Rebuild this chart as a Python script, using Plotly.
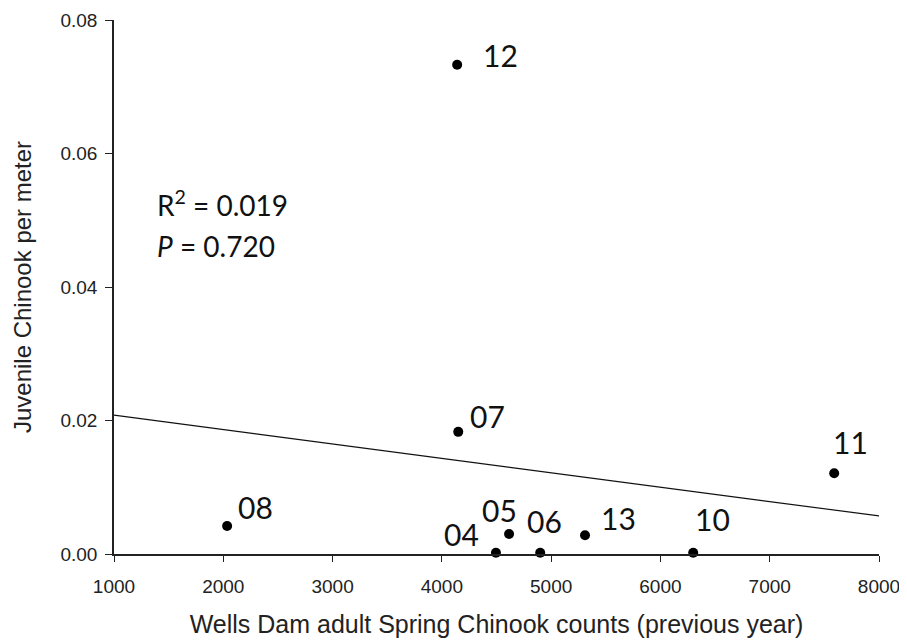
import plotly.graph_objects as go

# Data
years = ["04", "05", "06", "07", "08", "10", "11", "12", "13"]
adult_counts = [4495, 4615, 4900, 4150, 2035, 6300, 7590, 4140, 5310]
juvenile_per_m = [0.0002, 0.0030, 0.0002, 0.0183, 0.0042, 0.0002, 0.0121, 0.0733, 0.0028]

trend_x = [1000, 8000]
trend_y = [0.0208, 0.0057]

x_ticks = [1000, 2000, 3000, 4000, 5000, 6000, 7000, 8000]
y_ticks = [0.00, 0.02, 0.04, 0.06, 0.08]

stats_r2 = "0.019"
stats_p = "0.720"

# Label pixel offsets (style): (dx right, dy up)
label_offsets = {
    "04": (-34, 19), "05": (-10, 24), "06": (4, 32), "07": (29, 16),
    "08": (28, 19), "10": (19, 34), "11": (16, 31), "12": (43, 10), "13": (33, 17),
}

fig = go.Figure()
fig.add_trace(go.Scatter(x=trend_x, y=trend_y, mode="lines",
                         line=dict(color="#111111", width=1.2), showlegend=False,
                         hoverinfo="skip"))
fig.add_trace(go.Scatter(x=adult_counts, y=juvenile_per_m, mode="markers",
                         marker=dict(color="black", size=10), showlegend=False,
                         cliponaxis=False))

label_font = dict(family="Lato", size=30, color="#111111")
stats_font = dict(family="Lato", size=28, color="#111111")
for yr, xv, yv in zip(years, adult_counts, juvenile_per_m):
    dx, dy = label_offsets[yr]
    fig.add_annotation(x=xv, y=yv, text=yr, showarrow=False, xanchor="center",
                       yanchor="middle", xshift=dx, yshift=dy, font=label_font)

fig.add_annotation(x=0.053, y=0.657, xref="paper", yref="paper",
                   text="R<sup>2</sup> = " + stats_r2, showarrow=False,
                   xanchor="left", yanchor="middle", font=stats_font)
fig.add_annotation(x=0.053, y=0.577, xref="paper", yref="paper",
                   text="<i>P</i> = " + stats_p, showarrow=False,
                   xanchor="left", yanchor="middle", font=stats_font)

tick_font = dict(family="Liberation Sans", size=19, color="#222222")
title_font = dict(family="Liberation Sans", size=24, color="#222222")

fig.update_xaxes(range=[1000, 8000], tickvals=x_ticks, ticks="outside", ticklen=6,
                 tickcolor="#222222", showline=True, linecolor="#222222", linewidth=1.5,
                 showgrid=False, zeroline=False, tickfont=tick_font, automargin=False,
                 ticklabelstandoff=8,
                 title=dict(text="Wells Dam adult Spring Chinook counts (previous year)",
                            font=dict(family="Liberation Sans", size=25, color="#222222"),
                            standoff=20))
fig.update_yaxes(range=[0, 0.08], tickvals=y_ticks, tickformat=".2f", ticks="outside",
                 ticklen=7, tickcolor="#222222", showline=True, linecolor="#222222",
                 linewidth=1.5, showgrid=False, zeroline=False, tickfont=tick_font,
                 ticklabelstandoff=4, automargin=False,
                 title=dict(text="Juvenile Chinook per meter", font=title_font, standoff=22))

# The page body adds an 8px offset; size the figure so the plot area lands where the reference has it
fig.update_layout(width=899, height=636, margin=dict(l=106, r=28, t=12, b=90),
                  plot_bgcolor="white", paper_bgcolor="white")

fig.write_html("out.html")
